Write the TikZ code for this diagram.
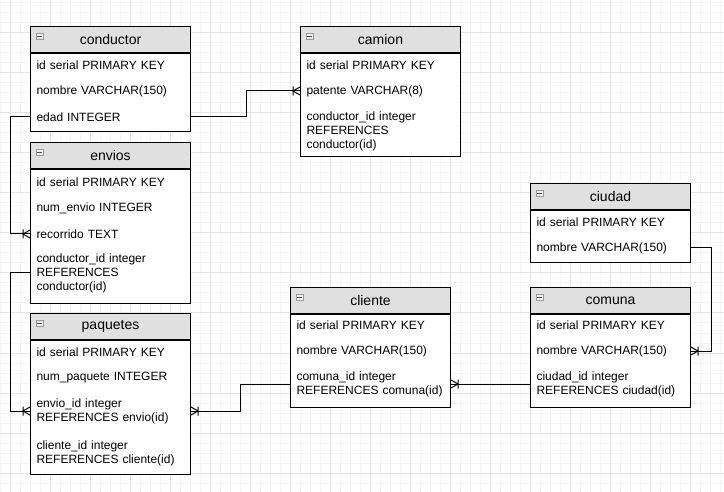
\documentclass[tikz,border=0pt]{standalone}
\usepackage{fontspec}
\setmainfont{Liberation Sans}
\usetikzlibrary{arrows.meta}
\usetikzlibrary{positioning}
\usepackage{color}
\definecolor{headgray}{HTML}{E0E0E0}
\definecolor{gridminor}{HTML}{F4F4F4}
\definecolor{gridmajor}{HTML}{E4E4E4}
\newcommand{\rowfont}[0]{\fontsize{12}{14}\selectfont}
\newcommand{\titlefont}[0]{\fontsize{14}{16}\selectfont}

% many end of a relation: bar + crow's foot
\pgfdeclarearrow{
  name = crowfoot,
  setup code = {
    \pgfarrowssettipend{0pt}
    \pgfarrowssetlineend{0pt}
    \pgfarrowssetbackend{-7pt}
    \pgfarrowssetvisualbackend{-7pt}
    \pgfarrowsupperhullpoint{0pt}{4.5pt}
    \pgfarrowsupperhullpoint{-7pt}{4.5pt}
  },
  drawing code = {
    \pgfsetdash{}{0pt}
    \pgfpathmoveto{\pgfqpoint{0pt}{4pt}}
    \pgfpathlineto{\pgfqpoint{-7pt}{0pt}}
    \pgfpathlineto{\pgfqpoint{0pt}{-4pt}}
    \pgfpathmoveto{\pgfqpoint{-7pt}{4.5pt}}
    \pgfpathlineto{\pgfqpoint{-7pt}{-4.5pt}}
    \pgfusepathqstroke
  }
}

\tikzset{
  tablehead/.style={rectangle, draw=black, fill=headgray, minimum width=160pt, minimum height=26pt,
    inner sep=0pt, anchor=north west, font=\titlefont},
  tablebody/.style={rectangle, draw=black, fill=white, minimum width=160pt, inner sep=0pt},
  tablerow/.style={anchor=west, text width=148pt, inner xsep=6pt, inner ysep=0pt, align=left,
    font=\rowfont},
  collapse/.style={rectangle, draw=gray!80, fill=gray!12, minimum width=7pt, minimum height=6pt,
    inner sep=0pt, line width=0.6pt,
    path picture={\draw[black!70, line width=0.8pt]
      ([xshift=1.4pt]path picture bounding box.west) -- ([xshift=-1.4pt]path picture bounding box.east);}},
  relation/.style={draw=black, line width=1pt, -{crowfoot}},
}

\begin{document}
\begin{tikzpicture}[x=1pt, y=-1pt, line width=1pt]
    \useasboundingbox (0,0) rectangle (724,492);
    % background grid
    \foreach \x in {0,10,...,720} \draw[gridminor] (\x,0) -- (\x,492);
    \foreach \y in {3,13,...,483} \draw[gridminor] (0,\y) -- (724,\y);
    \foreach \x in {10,50,...,690} \draw[gridmajor] (\x,0) -- (\x,492);
    \foreach \y in {33,73,...,473} \draw[gridmajor] (0,\y) -- (724,\y);

    % conductor
    \node[tablehead] (conductor) at (30,26) {conductor};
    \node[tablebody, minimum height=78pt, below=0pt of conductor] (conductor-body) {};
    \node[collapse] (conductor-btn) at (39.5,36) {};
    \node[tablerow] (conductor-id) at (30,65) {id serial PRIMARY KEY};
    \node[tablerow] (conductor-nombre) at (30,91) {nombre VARCHAR(150)};
    \node[tablerow] (conductor-edad) at (30,117) {edad INTEGER};

    % camion
    \node[tablehead] (camion) at (300,26) {camion};
    \node[tablebody, minimum height=103pt, below=0pt of camion] (camion-body) {};
    \node[collapse] (camion-btn) at (309.5,36) {};
    \node[tablerow] (camion-id) at (300,65) {id serial PRIMARY KEY};
    \node[tablerow] (camion-patente) at (300,91) {patente VARCHAR(8)};
    \node[tablerow] (camion-conductor) at (300,131) {conductor\_id integer\\REFERENCES\\conductor(id)};

    % envios
    \node[tablehead] (envios) at (30,142) {envios};
    \node[tablebody, minimum height=134pt, below=0pt of envios] (envios-body) {};
    \node[collapse] (envios-btn) at (39.5,152) {};
    \node[tablerow] (envios-id) at (30,182) {id serial PRIMARY KEY};
    \node[tablerow] (envios-num) at (30,208) {num\_envio INTEGER};
    \node[tablerow] (envios-recorrido) at (30,234) {recorrido TEXT};
    \node[tablerow] (envios-conductor) at (30,273) {conductor\_id integer\\REFERENCES\\conductor(id)};

    % paquetes
    \node[tablehead] (paquetes) at (30,313) {paquetes};
    \node[tablebody, minimum height=134pt, below=0pt of paquetes] (paquetes-body) {};
    \node[collapse] (paquetes-btn) at (39.5,323) {};
    \node[tablerow] (paquetes-id) at (30,352) {id serial PRIMARY KEY};
    \node[tablerow] (paquetes-num) at (30,378) {num\_paquete INTEGER};
    \node[tablerow] (paquetes-envio) at (30,411) {envio\_id integer\\REFERENCES envio(id)};
    \node[tablerow] (paquetes-cliente) at (30,453) {cliente\_id integer\\REFERENCES cliente(id)};

    % cliente
    \node[tablehead] (cliente) at (290,287) {cliente};
    \node[tablebody, minimum height=93pt, below=0pt of cliente] (cliente-body) {};
    \node[collapse] (cliente-btn) at (299.5,297) {};
    \node[tablerow] (cliente-id) at (290,325) {id serial PRIMARY KEY};
    \node[tablerow] (cliente-nombre) at (290,351) {nombre VARCHAR(150)};
    \node[tablerow] (cliente-comuna) at (290,384) {comuna\_id integer\\REFERENCES comuna(id)};

    % ciudad
    \node[tablehead] (ciudad) at (530,183) {ciudad};
    \node[tablebody, minimum height=52pt, below=0pt of ciudad] (ciudad-body) {};
    \node[collapse] (ciudad-btn) at (539.5,193) {};
    \node[tablerow] (ciudad-id) at (530,222) {id serial PRIMARY KEY};
    \node[tablerow] (ciudad-nombre) at (530,248) {nombre VARCHAR(150)};

    % comuna
    \node[tablehead] (comuna) at (530,287) {comuna};
    \node[tablebody, minimum height=93pt, below=0pt of comuna] (comuna-body) {};
    \node[collapse] (comuna-btn) at (539.5,297) {};
    \node[tablerow] (comuna-id) at (530,325) {id serial PRIMARY KEY};
    \node[tablerow] (comuna-nombre) at (530,351) {nombre VARCHAR(150)};
    \node[tablerow] (comuna-ciudad) at (530,384) {ciudad\_id integer\\REFERENCES ciudad(id)};

    % relations
    \draw[relation] (conductor-edad.west) -- ++(-20,0) |- (envios-recorrido.west);
    \draw[relation] (conductor-edad.east) -- ++(55,0) |- (camion-patente.west);
    \draw[relation] (envios-conductor.west) -- ++(-20,0) |- (paquetes-envio.west);
    \draw[relation] (cliente-comuna.west) -- ++(-50,0) |- (paquetes-envio.east);
    \draw[relation] (comuna-ciudad.west) -- (cliente-comuna.east);
    \draw[relation] (ciudad-nombre.east) -- ++(20,0) |- (comuna-nombre.east);
\end{tikzpicture}
\end{document}
